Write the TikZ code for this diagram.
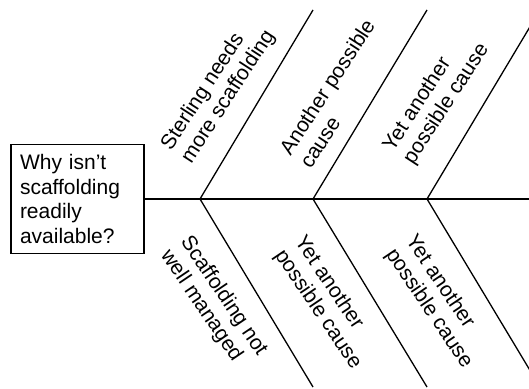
\documentclass[tikz,border=0pt]{standalone}
\usepackage{fontspec}
\setmainfont{Liberation Sans}
\begin{document}
\begin{tikzpicture}[x=1pt,y=1pt,
  bone/.style={line width=1.3pt},
  spine/.style={line width=2.2pt},
  lbl/.style={inner sep=0pt, align=left, font=\fontsize{21}{24}\selectfont},
  upl/.style={lbl, rotate=57, anchor=south west},
  dnl/.style={lbl, rotate=-56, anchor=north west}]
\useasboundingbox (0,0) rectangle (529,388);
\clip (0,0) rectangle (529,388);
% problem box
\node[draw, line width=1.3pt, text width=115pt, inner xsep=9pt, inner ysep=0pt,
      minimum height=109pt, align=left, font=\fontsize{21}{24.5}\selectfont]
      (q) at (77.5,189) {Why isn’t\\scaffolding\\readily\\available?};
% spine
\coordinate (e) at (529,189);
\coordinate (j1) at (200,189);
\coordinate (j2) at (313,189);
\coordinate (j3) at (427,189);
\coordinate (u1) at (313,378);
\coordinate (u2) at (427,378);
\coordinate (u3) at (540,378);
\coordinate (d1) at (313,1);
\coordinate (d2) at (427,1);
\coordinate (d3) at (540,1);
\draw[spine] (q.east) -- (e);
\draw[bone] (j1) -- (u1);
\draw[bone] (j2) -- (u2);
\draw[bone] (j3) -- (u3);
\draw[bone] (j1) -- (d1);
\draw[bone] (j2) -- (d2);
\draw[bone] (j3) -- (d3);
% labels
\node[upl] (c1) at (195,221) {Sterling needs\\more scaffolding};
\node[upl] (c2) at (311,218) {Another possible\\cause};
\node[upl] (c3) at (417,220) {Yet another\\possible cause};
\node[dnl] (c4) at (193,155) {Scaffolding not\\well managed};
\node[dnl] (c5) at (307,155) {Yet another\\possible cause};
\node[dnl] (c6) at (418,156) {Yet another\\possible cause};
\end{tikzpicture}
\end{document}
